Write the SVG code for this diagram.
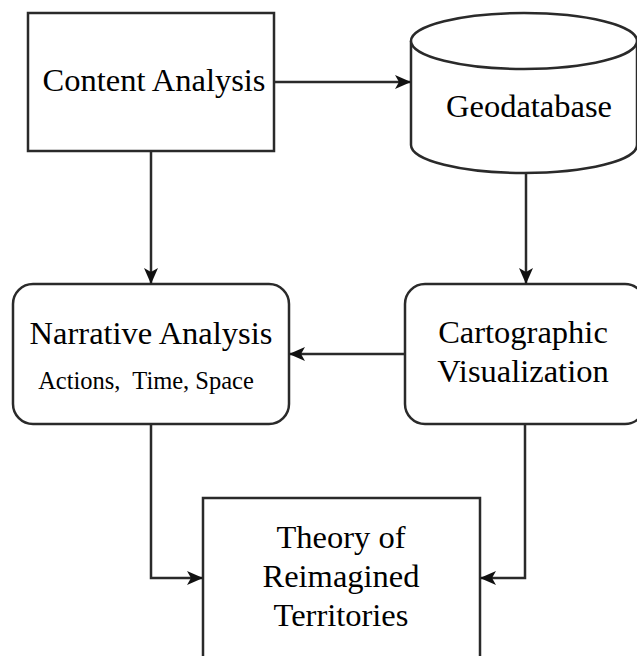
<svg xmlns="http://www.w3.org/2000/svg" width="637" height="656" viewBox="0 0 637 656">
<style>
.box{fill:#fff;stroke:#2a2a2a;stroke-width:2.5}
.lbl{font-family:"Liberation Serif","Times New Roman",serif;font-size:32.5px;fill:#000;text-anchor:middle}
.sub{font-size:24.5px}
.con{fill:none;stroke:#2a2a2a;stroke-width:2.5}
</style>
<defs>
<marker id="ah" markerWidth="16" markerHeight="14" refX="15" refY="7" orient="auto" markerUnits="userSpaceOnUse">
<path d="M0,0 L16,7 L0,14 L4,7 Z" fill="#111"/>
</marker>
</defs>
<g id="content-analysis">
<rect class="box" x="28" y="13" width="246" height="138"/>
<text class="lbl" x="154" y="91">Content Analysis</text>
</g>
<g id="geodatabase">
<path class="box" d="M411,41 L411,145 A113,28 0 0 0 637,145 L637,41 A113,28 0 0 0 411,41 Z"/>
<path class="box" d="M411,41 A113,28 0 0 0 637,41" fill="none"/>
<text class="lbl" x="529" y="117">Geodatabase</text>
</g>
<g id="narrative-analysis">
<rect class="box" x="13" y="284" width="276" height="140" rx="20" ry="20"/>
<text class="lbl" x="151" y="344">Narrative Analysis</text>
<text class="lbl sub" x="146" y="389" xml:space="preserve">Actions,  Time, Space</text>
</g>
<g id="cartographic-visualization">
<rect class="box" x="405" y="284" width="240" height="140" rx="20" ry="20"/>
<text class="lbl" x="523" y="343">Cartographic</text>
<text class="lbl" x="523" y="382">Visualization</text>
</g>
<g id="theory">
<rect class="box" x="203" y="498" width="277" height="180"/>
<text class="lbl" x="341" y="548">Theory of</text>
<text class="lbl" x="341" y="587">Reimagined</text>
<text class="lbl" x="341" y="626">Territories</text>
</g>
<g id="connectors">
<path class="con" d="M274,82 L410,82" marker-end="url(#ah)"/>
<path class="con" d="M151,151 L151,283" marker-end="url(#ah)"/>
<path class="con" d="M526,173 L526,283" marker-end="url(#ah)"/>
<path class="con" d="M405,354 L290,354" marker-end="url(#ah)"/>
<path class="con" d="M151,424 L151,578 L202,578" marker-end="url(#ah)"/>
<path class="con" d="M525,424 L525,578 L481,578" marker-end="url(#ah)"/>
</g>
</svg>
